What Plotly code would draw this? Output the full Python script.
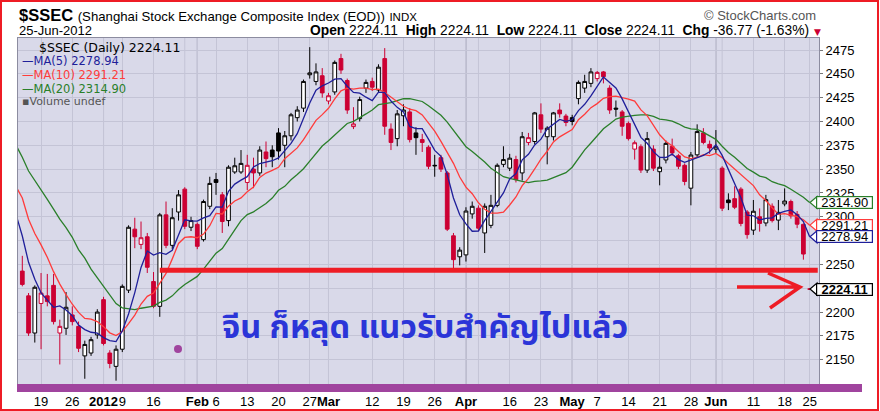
import plotly.graph_objects as go

# ---------------- data ----------------
opens = [2243, 2217, 2178, 2209, 2217, 2228, 2178, 2183, 2197, 2185,
         2154, 2157, 2176, 2213, 2157, 2143, 2161, 2223, 2287, 2271,
         2279, 2232, 2206, 2302, 2270, 2305, 2329, 2289, 2292, 2276,
         2311, 2339, 2323, 2296, 2347, 2347, 2336, 2350, 2346, 2368,
         2370, 2388, 2375, 2385, 2404, 2414, 2449, 2442, 2448, 2421.5,
         2431, 2466, 2443, 2394.6, 2403, 2435, 2442, 2433, 2466, 2392,
         2382, 2406, 2410, 2388, 2381, 2373, 2354, 2362, 2346, 2280,
         2258, 2260, 2303, 2309, 2283, 2291, 2312, 2355, 2351, 2360,
         2346, 2378, 2379, 2407, 2384, 2384, 2412, 2405.7, 2404, 2424,
         2435, 2440, 2445, 2452, 2435, 2414, 2410, 2398, 2371, 2373.5,
         2349, 2371, 2347.3, 2359.6, 2374, 2364, 2354, 2330, 2365, 2388,
         2376, 2371, 2351, 2317.6, 2319, 2329, 2305, 2286, 2300, 2293.5,
         2311, 2296.5, 2313.5, 2316, 2302.5, 2292, 2224.11]
highs = [2259, 2220, 2228, 2241, 2240, 2240, 2192, 2221, 2206, 2190,
         2170, 2174, 2203, 2216, 2160, 2165, 2229, 2291, 2299, 2295,
         2283, 2242, 2304, 2316, 2309, 2328, 2331, 2300, 2294, 2318,
         2342, 2346, 2326, 2354, 2362, 2370, 2365, 2362, 2374, 2379,
         2375, 2393, 2390, 2409, 2416, 2444, 2478, 2461, 2456, 2430,
         2464, 2471, 2445, 2415, 2426, 2444, 2446, 2460, 2477, 2398,
         2412, 2418, 2414, 2394, 2387, 2375, 2365, 2365, 2348, 2283,
         2268, 2310, 2316, 2312, 2314, 2323, 2356, 2374, 2366, 2364,
         2389, 2388, 2410, 2419, 2395, 2410, 2419, 2408, 2407, 2443,
         2449, 2456, 2453, 2453, 2438, 2422, 2412, 2400, 2380, 2376,
         2389, 2375, 2363, 2380, 2382, 2366, 2356, 2368, 2397, 2393,
         2380, 2391, 2353, 2324.6, 2332, 2331, 2307, 2317.6, 2308.8, 2323,
         2314, 2317.6, 2329.8, 2318, 2306, 2293, 2224.11]
lows = [2227, 2175, 2168, 2161, 2206, 2187, 2145, 2176, 2186, 2158,
        2130, 2154, 2172, 2165, 2141, 2128, 2158, 2220, 2267, 2266,
        2241, 2204, 2195, 2267, 2266, 2296, 2287, 2285, 2266, 2274,
        2308, 2323, 2283, 2290, 2345, 2345, 2328, 2330, 2343, 2352,
        2352, 2360, 2352, 2380, 2400, 2410, 2445, 2438, 2425, 2418,
        2428, 2450, 2408, 2392, 2400, 2430, 2432, 2430, 2386, 2370,
        2374, 2395, 2378, 2365, 2368, 2350, 2342, 2347, 2285, 2246,
        2249, 2253, 2298, 2285, 2262, 2288, 2310, 2352, 2348, 2336,
        2338, 2375, 2376, 2388, 2355, 2380, 2404, 2395, 2396, 2418,
        2430, 2436, 2442, 2440, 2408, 2405, 2385, 2380, 2360, 2346,
        2346, 2348, 2333, 2356, 2364, 2350, 2333, 2312, 2362, 2376,
        2366, 2367, 2306, 2307, 2308, 2290, 2277, 2281, 2284.4, 2290,
        2294, 2286, 2311, 2298, 2288, 2255, 2224.11]
closes = [2229, 2178, 2226, 2220, 2211, 2190, 2185, 2205, 2190, 2162,
          2166, 2171, 2200, 2167, 2146, 2161, 2227, 2289, 2279, 2278,
          2247, 2206, 2302, 2270, 2299, 2323, 2290, 2296, 2269, 2316,
          2335, 2336, 2295, 2352, 2353.5, 2356, 2354, 2346, 2370, 2361,
          2363, 2369, 2385, 2407, 2412, 2442, 2451, 2452, 2430, 2427,
          2462, 2454, 2412, 2397.4, 2423, 2441, 2436, 2457, 2395, 2378,
          2408, 2412, 2381, 2383, 2378, 2353, 2353.5, 2350, 2287, 2255,
          2265, 2306, 2311, 2288, 2311, 2312, 2354, 2360, 2361.5, 2339,
          2384, 2383, 2409, 2392, 2393, 2409, 2408, 2399, 2400, 2441,
          2442, 2452, 2451.5, 2447, 2412, 2413, 2395, 2382, 2377.7, 2349,
          2382, 2351, 2352, 2377, 2367, 2353, 2337, 2364.8, 2389.4, 2378,
          2372.2, 2373.4, 2309, 2314.8, 2310, 2293, 2281.3, 2305.8, 2293, 2318,
          2296, 2304.6, 2316.5, 2301, 2292.2, 2260.88, 2224.11]
# closes before the visible window (only feed the moving averages)
prior_closes = [2480, 2467, 2416, 2415, 2419, 2396, 2397, 2380, 2395, 2419,
                2348, 2401, 2375, 2340, 2341, 2341, 2316, 2315, 2291, 2248]

# x-axis: trading-day positions of the labels
tick_index = [3, 8, 13, 16, 21, 28, 31, 36, 41, 46, 49, 56, 61, 66, 71,
              78, 83, 88, 92, 97, 102, 107, 111, 117, 122, 126]
tick_labels = ["19", "26", "<b>2012</b>", "9", "16", "<b>Feb</b>", "6", "13", "20",
               "27", "<b>Mar</b>", "12", "19", "26", "<b>Apr</b>", "16", "23",
               "<b>May</b>", "7", "14", "21", "28", "<b>Jun</b>", "11", "18", "25"]
month_index = [13, 28, 49, 71, 88, 111]
extra_week_index = [26, 73, 112]
y_ticks = list(range(2150, 2476, 25))
y_hidden_labels = [2225, 2275]   # covered by the value tags in the original

support_level = 2244
support_start = 22
note_text = "จีน ก็หลุด แนวรับสำคัญไปแล้ว"

# ---------------- geometry helpers ----------------
W, H = 880, 411
ML, MR, MT, MB = 18, 61, 38, 25
PW, PH = W - ML - MR, H - MT - MB
X_RANGE = [-0.69, 127.5]
Y_RANGE = [2122.4, 2487.6]


def px(x):
    return (x - ML) / PW


def py(y):
    return (H - MB - y) / PH


ypp = PH / (Y_RANGE[1] - Y_RANGE[0])  # pixels per index point

n = len(closes)
idx = list(range(n))
allc = prior_closes + closes
off = len(prior_closes)
ma_x = list(range(-1, n))   # one step before the window so lines reach the left edge


def sma(k):
    return [sum(allc[off + i - k + 1: off + i + 1]) / k for i in ma_x]


ma5, ma10, ma20 = sma(5), sma(10), sma(20)

prev = [prior_closes[-1]] + closes[:-1]
black_i = [i for i in idx if closes[i] >= prev[i]]
red_i = [i for i in idx if closes[i] < prev[i]]

RED = "#cc0033"
C5, C10, C20 = "#1f1f9a", "#ff3b3b", "#2a7f2a"
fig = go.Figure()


def candle(ids, col):
    return go.Candlestick(
        x=ids, open=[opens[i] for i in ids], high=[highs[i] for i in ids],
        low=[lows[i] for i in ids], close=[closes[i] for i in ids],
        increasing=dict(line=dict(color=col, width=1), fillcolor="white"),
        decreasing=dict(line=dict(color=col, width=1), fillcolor=col),
        whiskerwidth=0, showlegend=False, hoverinfo="skip")


for ma, col in ((ma20, C20), (ma10, C10), (ma5, C5)):
    fig.add_trace(go.Scatter(x=ma_x, y=ma, mode="lines", line=dict(color=col, width=1.3),
                             showlegend=False, hoverinfo="skip", cliponaxis=True))
fig.add_trace(candle(black_i, "black"))
fig.add_trace(candle(red_i, RED))

shapes = []
for i in extra_week_index:
    shapes.append(dict(type="line", xref="x", yref="paper", x0=i, x1=i, y0=0, y1=1,
                       line=dict(color="#c4c4d6", width=1), layer="below"))
for i in month_index:
    shapes.append(dict(type="line", xref="x", yref="paper", x0=i, x1=i, y0=0, y1=1,
                       line=dict(color="#9c9cb0", width=1), layer="below"))

# hand-drawn support line
shapes.append(dict(type="line", xref="x", yref="y", x0=support_start, x1=X_RANGE[1] - 0.2,
                   y0=support_level, y1=support_level, line=dict(color="#ee1c25", width=5)))
# hand-drawn arrow
ARW = "#ee1c25"
shapes.append(dict(type="path", xref="paper", yref="paper",
                   path=f"M {px(737)},{py(287)} L {px(800)},{py(287)} "
                        f"M {px(768)},{py(273)} L {px(800)},{py(287)} L {px(770)},{py(308)}",
                   line=dict(color=ARW, width=3.5)))
# purple underline + dot
PUR = "#a0449e"
shapes.append(dict(type="line", xref="paper", yref="paper", x0=px(17), x1=px(862),
                   y0=py(388), y1=py(388), line=dict(color=PUR, width=8)))
shapes.append(dict(type="circle", xref="paper", yref="paper", x0=px(174), x1=px(182),
                   y0=py(345), y1=py(353), fillcolor=PUR, line=dict(color=PUR, width=0)))
# red frame round the picture
shapes.append(dict(type="rect", xref="paper", yref="paper", x0=px(1), x1=px(878),
                   y0=py(410), y1=py(1), line=dict(color="#ee1c25", width=2)))

annotations = []
# value tags on the right
tags = [(ma20[-1], C20, False), (ma10[-1], C10, False),
        (ma5[-1], C5, False), (closes[-1], "black", True)]
hh = 6 / ypp
for v, col, bold in tags:
    shapes.append(dict(type="path", xref="paper", yref="y",
                       path=f"M {px(810)},{v} L {px(817)},{v + hh} L {px(817)},{v - hh} Z",
                       fillcolor="white", line=dict(color=col, width=1.2)))
    txt = f"{v:.2f}"
    annotations.append(dict(xref="paper", yref="y", x=px(816), y=v, text=f"<b>{txt}</b>" if bold else txt,
                            showarrow=False, xanchor="left", yanchor="middle",
                            width=55, height=11, align="center",
                            bgcolor="white", bordercolor=col, borderwidth=1.2, borderpad=0,
                            font=dict(family="Liberation Sans", size=13, color="black")))

# header
annotations.append(dict(xref="paper", yref="paper", x=px(17), y=py(15), xanchor="left", yanchor="middle",
                        showarrow=False,
                        text="<b>$SSEC</b> <span style='font-size:13.2px'>(Shanghai Stock Exchange Composite Index (EOD))</span>"
                             " <span style='font-size:11.5px'>INDX</span>",
                        font=dict(family="Liberation Sans", size=16.5, color="black")))
annotations.append(dict(xref="paper", yref="paper", x=px(17), y=py(31), xanchor="left", yanchor="middle",
                        showarrow=False, text="25-Jun-2012",
                        font=dict(family="Liberation Sans", size=13, color="black")))
annotations.append(dict(xref="paper", yref="paper", x=px(818), y=py(15.5), xanchor="right", yanchor="middle",
                        showarrow=False, text="© StockCharts.com",
                        font=dict(family="Liberation Sans", size=13, color="#555555")))
chg = closes[-1] - closes[-2]
pct = chg / closes[-2] * 100
o, h, l, c = opens[-1], highs[-1], lows[-1], closes[-1]
hdr = (f"<b>Open</b> {o:.2f}  <b>High</b> {h:.2f}  <b>Low</b> {l:.2f}  "
       f"<b>Close</b> {c:.2f}  <b>Chg</b> {chg:.2f} ({pct:.2f}%)")
annotations.append(dict(xref="paper", yref="paper", x=px(811), y=py(31), xanchor="right", yanchor="middle",
                        showarrow=False, text=hdr,
                        font=dict(family="Liberation Sans", size=13.8, color="black")))
annotations.append(dict(xref="paper", yref="paper", x=px(812), y=py(32), xanchor="left", yanchor="middle",
                        showarrow=False, text="▼", font=dict(family="DejaVu Sans", size=9, color=RED)))

# legend text inside plot
leg = [(f"$SSEC (Daily) {closes[-1]:.2f}", "black", 47, 12.5, 37),
       (f"—MA(5) {ma5[-1]:.2f}", C5, 61.5, 11.5, 20),
       (f"—MA(10) {ma10[-1]:.2f}", C10, 75, 11.5, 20),
       (f"—MA(20) {ma20[-1]:.2f}", C20, 89, 11.5, 20),
       ("▪Volume undef", "#555555", 101, 11, 20)]
for t, col, yy, fs, xx in leg:
    annotations.append(dict(xref="paper", yref="paper", x=px(xx), y=py(yy), xanchor="left", yanchor="middle",
                            showarrow=False, text=t, font=dict(family="DejaVu Sans", size=fs, color=col)))

# hand-written note
annotations.append(dict(xref="paper", yref="paper", x=px(425), y=py(328), xanchor="center", yanchor="middle",
                        showarrow=False, text=f"<b>{note_text}</b>",
                        font=dict(family="Noto Sans Thai, Loma, Garuda, Noto Sans, DejaVu Sans, sans-serif",
                                  size=32.5, color="#2b35d8")))

fig.update_layout(
    width=W, height=H, margin=dict(l=ML, r=MR, t=MT, b=MB, autoexpand=False),
    paper_bgcolor="white", plot_bgcolor="#d9d9e9",
    boxgap=0.15, showlegend=False,
    shapes=shapes, annotations=annotations,
    xaxis=dict(range=X_RANGE, tickmode="array", tickvals=tick_index, ticktext=tick_labels,
               tickangle=0, automargin=False, ticklabelstandoff=3,
               showgrid=True, gridcolor="#c4c4d6", gridwidth=1, zeroline=False,
               showline=True, linecolor="#8c8ca0", mirror=True, ticks="",
               tickfont=dict(family="Liberation Sans", size=13, color="black"),
               rangeslider=dict(visible=False), fixedrange=True),
    yaxis=dict(range=Y_RANGE, side="right", tickmode="array", tickvals=y_ticks, automargin=False,
               ticktext=["" if v in y_hidden_labels else str(v) for v in y_ticks],
               showgrid=True, gridcolor="#c4c4d6",
               zeroline=False, showline=True, linecolor="#8c8ca0", mirror=True,
               ticks="outside", ticklen=3, tickcolor="#777777",
               tickfont=dict(family="Liberation Sans", size=13, color="black"), fixedrange=True),
)

fig.write_html("out.html", config={"displayModeBar": False},
               post_script="document.body.style.margin='0';document.body.style.padding='0';")
